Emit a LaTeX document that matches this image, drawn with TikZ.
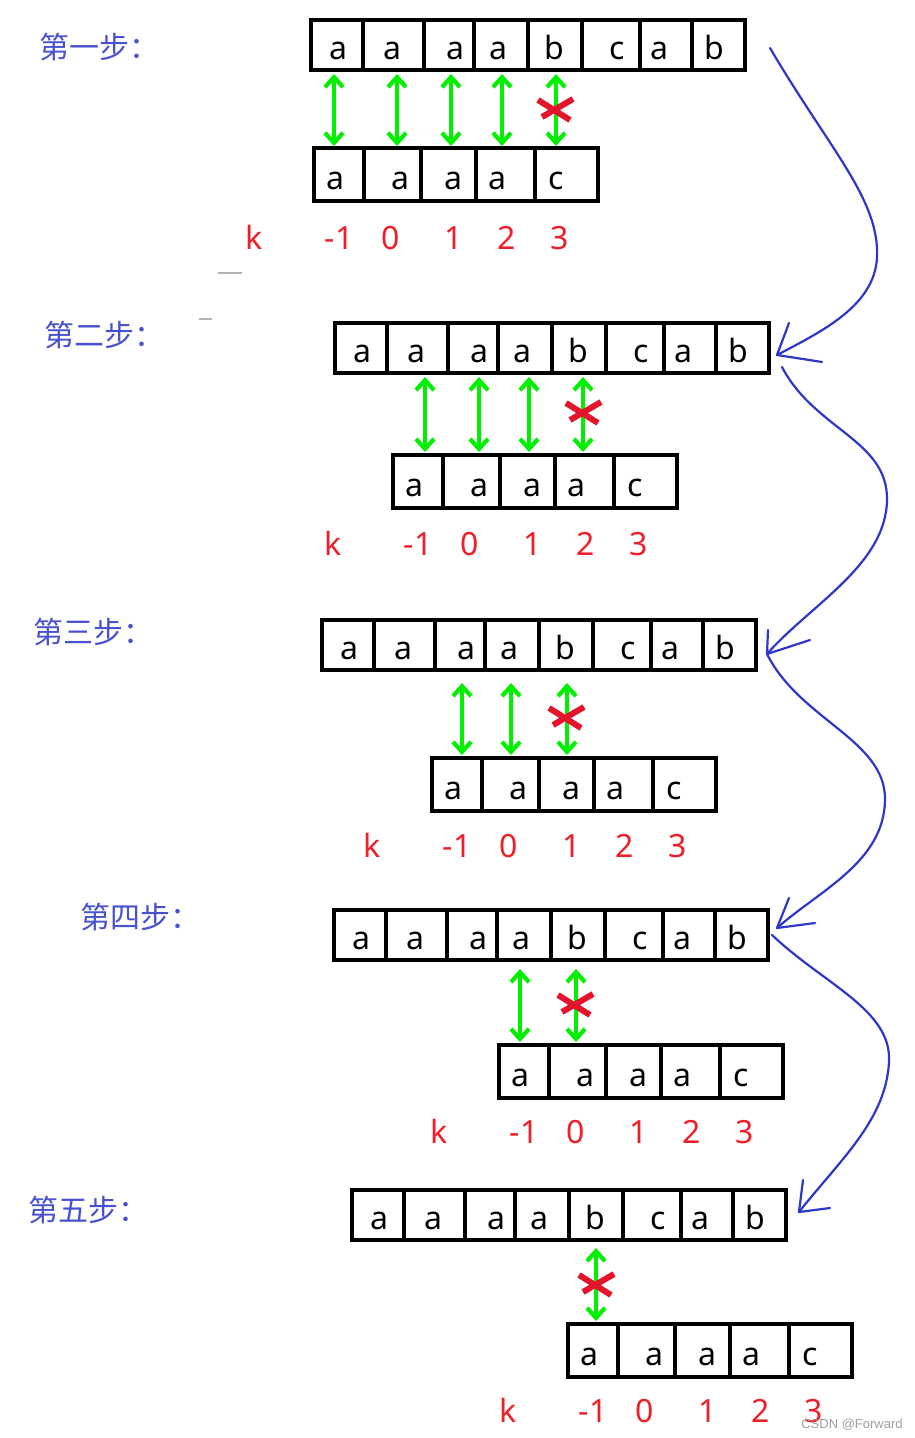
\documentclass[tikz,border=0pt]{standalone}
\usepackage{fontspec}
\setmainfont{Noto Sans}
\newfontfamily\cjk{Noto Sans CJK SC}
\newfontfamily\wmfont{Liberation Sans}
\usetikzlibrary{arrows.meta,calc}
\definecolor{lblue}{RGB}{72,82,208}
\definecolor{cblue}{RGB}{45,55,200}
\definecolor{lgreen}{RGB}{0,240,0}
\definecolor{xred}{RGB}{228,20,45}
\definecolor{nred}{RGB}{240,30,40}
\tikzset{
  rowbox/.style={draw=black, line width=3.2pt, inner sep=0, outer sep=0},
  cellline/.style={line width=3.2pt, black},
  letter/.style={font=\fontsize{32}{36}\selectfont, anchor=base, inner sep=0},
  knum/.style={font=\fontsize{32}{36}\selectfont, text=nred, anchor=base, inner sep=0},
  steplabel/.style={font=\cjk\fontsize{30}{34}\selectfont, text=lblue, inner sep=0},
  garrow/.style={lgreen, line width=4.2pt, {Straight Barb[length=10pt,width=18pt]}-{Straight Barb[length=10pt,width=18pt]}},
  xmark/.style={xred, line width=6pt},
  curve/.style={cblue, line width=2.2pt, line cap=round, line join=round},
}
\newcommand{\TopRow}[3]{%
  \node[rowbox, minimum width=434pt, minimum height=50pt, anchor=north west] (#1) at (#2,#3) {};
  \foreach \b in {52,113,163,217,271,329,381}
    \draw[cellline] ([xshift=\b pt]#1.north west) -- ([xshift=\b pt]#1.south west);
  \foreach \l/\x [count=\i] in {a/27.5,a/81,a/144,a/187,b/243,c/306,a/348,b/403}
    \node[letter] (#1-\i) at ([xshift=\x pt, yshift=-39pt]#1.north west) {\l};
}
\newcommand{\BotRow}[3]{%
  \node[rowbox, minimum width=284pt, minimum height=53pt, anchor=north west] (#1) at (#2,#3) {};
  \foreach \b in {50,107,162,221}
    \draw[cellline] ([xshift=\b pt]#1.north west) -- ([xshift=\b pt]#1.south west);
  \foreach \l/\x [count=\i] in {a/21,a/86,a/139,a/183,c/242}
    \node[letter] (#1-\i) at ([xshift=\x pt, yshift=-41pt]#1.north west) {\l};
}
\newcommand{\KRow}[3]{% name, bx, baseline y
  \node[knum] (#1-k) at (#2-60,#3) {k};
  \foreach \t/\x [count=\i] in {-1/25,0/77,1/140,2/193,3/246}
    \node[knum] (#1-\i) at (#2+\x,#3) {\t};
}
\newcommand{\XMark}[3]{% name, x, y
  \coordinate (#1) at (#2,#3);
  \draw[xmark] ($(#1)+(-18,-10)$) -- ($(#1)+(14,10)$);
  \draw[xmark] ($(#1)+(-14,7)$) -- ($(#1)+(17,-11)$);
}
\begin{document}
\begin{tikzpicture}[x=1pt,y=-1pt]
\fill[white] (0,0) rectangle (915,1438);
\useasboundingbox (0,0) rectangle (915,1438);

% faint marks
\draw[gray!60, line width=1.2pt] (218,273) -- (242,273);
\draw[gray!60, line width=1.2pt] (199,319) -- (212,319);

% step labels
\node[steplabel] (L1) at (99,47) {第一步：};
\node[steplabel] (L2) at (104,335) {第二步：};
\node[steplabel] (L3) at (93,632) {第三步：};
\node[steplabel] (L4) at (140,917) {第四步：};
\node[steplabel] (L5) at (88,1210) {第五步：};

% step 1
\TopRow{t1}{311}{20}
\BotRow{b1}{314}{148}
\KRow{k1}{314}{249}
\foreach \x in {334,397,451,502,556}
  \draw[garrow] ($(\x,0 |- t1.south)+(0,4)$) -- ($(\x,0 |- b1.north)+(0,-2)$);
\XMark{x1}{556}{110}

% step 2
\TopRow{t2}{335}{323}
\BotRow{b2}{393}{455}
\KRow{k2}{393}{555}
\foreach \x in {425,479,529,583}
  \draw[garrow] ($(\x,0 |- t2.south)+(0,4)$) -- ($(\x,0 |- b2.north)+(0,-3)$);
\XMark{x2}{584}{413}

% step 3
\TopRow{t3}{322}{620}
\BotRow{b3}{432}{758}
\KRow{k3}{432}{857}
\foreach \x in {462,511,567}
  \draw[garrow] ($(\x,0 |- t3.south)+(0,13)$) -- ($(\x,0 |- b3.north)+(0,-3)$);
\XMark{x3}{567}{718}

% step 4
\TopRow{t4}{334}{910}
\BotRow{b4}{499}{1045}
\KRow{k4}{499}{1143}
\foreach \x in {520,576}
  \draw[garrow] ($(\x,0 |- t4.south)+(0,9)$) -- ($(\x,0 |- b4.north)+(0,-3)$);
\XMark{x4}{576}{1005}

% step 5
\TopRow{t5}{352}{1190}
\BotRow{b5}{568}{1324}
\KRow{k5}{568}{1422}
\draw[garrow] ($(596,0 |- t5.south)+(0,8)$) -- ($(596,0 |- b5.north)+(0,-3)$);
\XMark{x5}{597}{1285}

% blue curves
\coordinate (c1s) at (770,48);
\coordinate (c1e) at (777,355);
\draw[curve] (c1s) .. controls (830,150) and (880,200) .. (877,258) .. controls (874,305) and (825,330) .. (c1e);
\draw[curve] (c1e) -- (822,362);
\draw[curve] (c1e) -- (789,323);

\coordinate (c2s) at (782,367);
\coordinate (c2e) at (767,654);
\draw[curve] (c2s) .. controls (815,430) and (888,440) .. (887,500) .. controls (886,565) and (810,605) .. (c2e);
\draw[curve] (c2e) -- (810,640);
\draw[curve] (c2e) -- (768,630);

\coordinate (c3e) at (777,928);
\draw[curve] (c2e) .. controls (800,720) and (886,740) .. (885,800) .. controls (884,862) and (820,890) .. (c3e);
\draw[curve] (c3e) -- (815,923);
\draw[curve] (c3e) -- (789,898);

\coordinate (c4s) at (772,935);
\coordinate (c4e) at (799,1212);
\draw[curve] (c4s) .. controls (825,985) and (892,1010) .. (889,1062) .. controls (886,1120) and (840,1160) .. (c4e);
\draw[curve] (c4e) -- (830,1208);
\draw[curve] (c4e) -- (803,1180);

% watermark
\node[font=\wmfont\fontsize{13}{15}\selectfont, text=gray!75, inner sep=0] (wm) at (852,1425) {CSDN @Forward};
\end{tikzpicture}
\end{document}
